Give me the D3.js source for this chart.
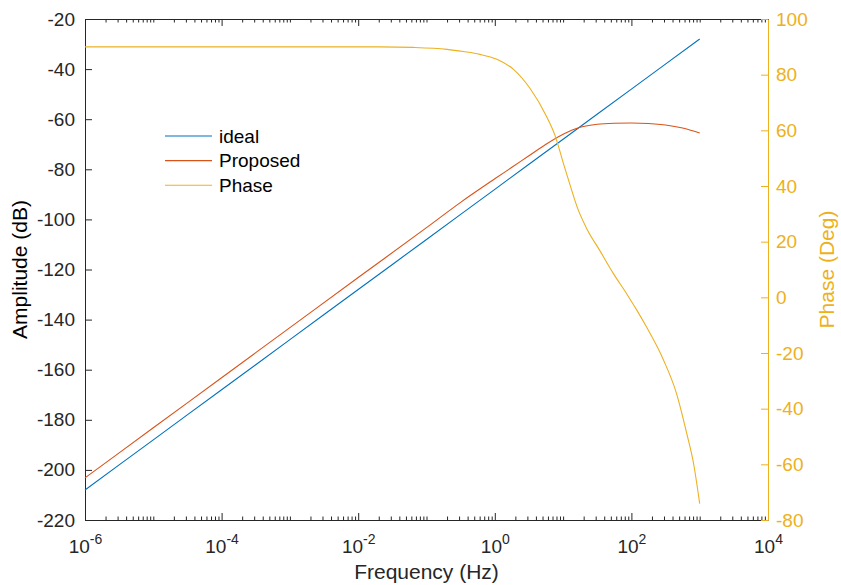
<!DOCTYPE html>
<html>
<head>
<meta charset="utf-8">
<script src="https://cdn.jsdelivr.net/npm/d3@7"></script>
<style>
  body { margin: 0; background: #fff; }
  text { font-family: "Liberation Sans", Arial, sans-serif; }
</style>
</head>
<body>
<svg id="chart"></svg>
<script>
const margin = { top: 19, right: 73, bottom: 65, left: 85 };
const W = 841, H = 585;
const width = W - margin.left - margin.right;
const height = H - margin.top - margin.bottom;

// ideal amplitude (dB)
const idealFreq = [1e-6, 1e-5, 1e-4, 1e-3, 1e-2, 1e-1, 1, 10, 100, 1000];
const idealDb = [-208, -188, -168, -148, -128, -108, -88, -68, -48, -28];

// proposed amplitude (dB)
const propFreq = [1e-6, 1e-5, 1e-4, 1e-3, 1e-2, 0.1, 0.316, 1, 1.78, 3.16, 5.62, 10, 17.8, 31.6, 56.2, 100, 178, 316, 562, 1000];
const propDb = [-203.2, -183.2, -163.2, -143.2, -123.2, -103.3, -93.2, -83.8, -79.2, -74.6, -70.0, -66.0, -63.2, -62.0, -61.6, -61.5, -61.7, -62.3, -63.5, -65.5];

// phase (deg)
const phaseFreq = [1e-6, 1e-3, 0.0209, 0.0646, 0.2, 0.347, 0.603, 1.07, 1.86, 3.27, 5.75, 7.59, 10, 12.6, 16.6, 22.4, 34.7, 54.3, 85.1, 120, 166, 295, 457, 646, 813, 1000];
const phaseDeg = [90, 90, 90, 89.8, 89.1, 88.3, 87.3, 85.5, 82.0, 75.1, 64.9, 58.3, 48.5, 40.5, 31.5, 24.5, 16.7, 8.6, 1.3, -4.6, -10.6, -22.5, -34.5, -48.9, -59.7, -74.1];

const xMajor = [1e-6, 1e-4, 1e-2, 1, 1e2, 1e4];
const xMajorExp = [-6, -4, -2, 0, 2, 4];
const yLeftTicks = [-220, -200, -180, -160, -140, -120, -100, -80, -60, -40, -20];
const yRightTicks = [-80, -60, -40, -20, 0, 20, 40, 60, 80, 100];

const legendNames = ["ideal", "Proposed", "Phase"];
const colors = ["#0072BD", "#D95319", "#EDB120"];
const axisColor = "#262626";

const svg = d3.select("#chart")
  .attr("width", W)
  .attr("height", H)
  .append("g")
  .attr("transform", `translate(${margin.left},${margin.top})`);

const x = d3.scaleLog().domain([1e-6, 1e4]).range([0, width]);
const yL = d3.scaleLinear().domain([-220, -20]).range([height, 0]);
const yR = d3.scaleLinear().domain([-80, 100]).range([height, 0]);

// minor ticks: k * 10^n that are not labelled decades
const minor = [];
for (let e = -6; e < 4; e++) {
  for (let k = 1; k < 10; k++) {
    const v = k * Math.pow(10, e);
    if (!(k === 1 && e % 2 === 0)) minor.push(v);
  }
}

function styleAxis(g, color) {
  g.select(".domain").attr("stroke", color);
  g.selectAll(".tick line").attr("stroke", color);
  g.selectAll(".tick text").attr("fill", color).style("font-size", "19px");
}

// bottom
svg.append("g")
  .attr("transform", `translate(0,${height})`)
  .call(d3.axisBottom(x).tickValues(minor).tickSizeInner(-3.5).tickSizeOuter(0).tickFormat(""))
  .call(g => g.select(".domain").remove())
  .call(g => g.selectAll(".tick line").attr("stroke", axisColor));
const gx = svg.append("g")
  .attr("transform", `translate(0,${height})`)
  .call(d3.axisBottom(x).tickValues(xMajor).tickSizeInner(-7).tickSizeOuter(0).tickFormat(""))
  .call(g => styleAxis(g, axisColor));

gx.selectAll(".tick")
  .append("text")
  .attr("y", 33)
  .attr("text-anchor", "middle")
  .attr("fill", axisColor)
  .style("font-size", "19px")
  .each(function (d, i) {
    const t = d3.select(this);
    t.append("tspan").text("10");
    t.append("tspan").attr("dy", -9).style("font-size", "14px").text(xMajorExp[i]);
  });

// top
svg.append("g")
  .call(d3.axisTop(x).tickValues(minor).tickSizeInner(-3.5).tickSizeOuter(0).tickFormat(""))
  .call(g => g.select(".domain").remove())
  .call(g => g.selectAll(".tick line").attr("stroke", axisColor));
svg.append("g")
  .call(d3.axisTop(x).tickValues(xMajor).tickSizeInner(-7).tickSizeOuter(0).tickFormat(""))
  .call(g => styleAxis(g, axisColor));

// left
svg.append("g")
  .call(d3.axisLeft(yL).tickValues(yLeftTicks).tickSizeInner(-7).tickSizeOuter(0).tickPadding(10).tickFormat(d => String(d)))
  .call(g => styleAxis(g, axisColor));

// right
svg.append("g")
  .attr("transform", `translate(${width},0)`)
  .call(d3.axisRight(yR).tickValues(yRightTicks).tickSizeInner(-7).tickSizeOuter(0).tickPadding(8).tickFormat(d => String(d)))
  .call(g => styleAxis(g, colors[2]));

// lines
const lineL = d3.line().x(d => x(d[0])).y(d => yL(d[1])).curve(d3.curveMonotoneX);
const lineR = d3.line().x(d => x(d[0])).y(d => yR(d[1])).curve(d3.curveMonotoneX);

const series = [
  { pts: d3.zip(idealFreq, idealDb), gen: lineL },
  { pts: d3.zip(propFreq, propDb), gen: lineL },
  { pts: d3.zip(phaseFreq, phaseDeg), gen: lineR }
];

svg.selectAll(".series")
  .data(series)
  .join("path")
  .attr("class", "series")
  .attr("fill", "none")
  .attr("stroke", (d, i) => colors[i])
  .attr("stroke-width", 1.1)
  .attr("d", d => d.gen(d.pts));

// legend
const legend = svg.append("g").attr("transform", "translate(80,117)");
const items = legend.selectAll("g")
  .data(legendNames)
  .join("g")
  .attr("transform", (d, i) => `translate(0,${i * 24.6})`);
items.append("line")
  .attr("x1", 0).attr("x2", 47)
  .attr("stroke", (d, i) => colors[i])
  .attr("stroke-width", 1.1);
items.append("text")
  .attr("x", 54)
  .attr("dy", "0.35em")
  .attr("fill", "#000")
  .style("font-size", "19px")
  .text(d => d);

// axis labels
svg.append("text")
  .attr("x", width / 2)
  .attr("y", 560)
  .attr("text-anchor", "middle")
  .attr("fill", axisColor)
  .style("font-size", "21px")
  .text("Frequency (Hz)");

svg.append("text")
  .attr("transform", `translate(${27 - margin.left},${height / 2}) rotate(-90)`)
  .attr("text-anchor", "middle")
  .attr("fill", "#000")
  .style("font-size", "21px")
  .text("Amplitude (dB)");

svg.append("text")
  .attr("transform", `translate(${834 - margin.left},${height / 2}) rotate(-90)`)
  .attr("text-anchor", "middle")
  .attr("fill", colors[2])
  .style("font-size", "21px")
  .text("Phase (Deg)");
</script>
</body>
</html>
